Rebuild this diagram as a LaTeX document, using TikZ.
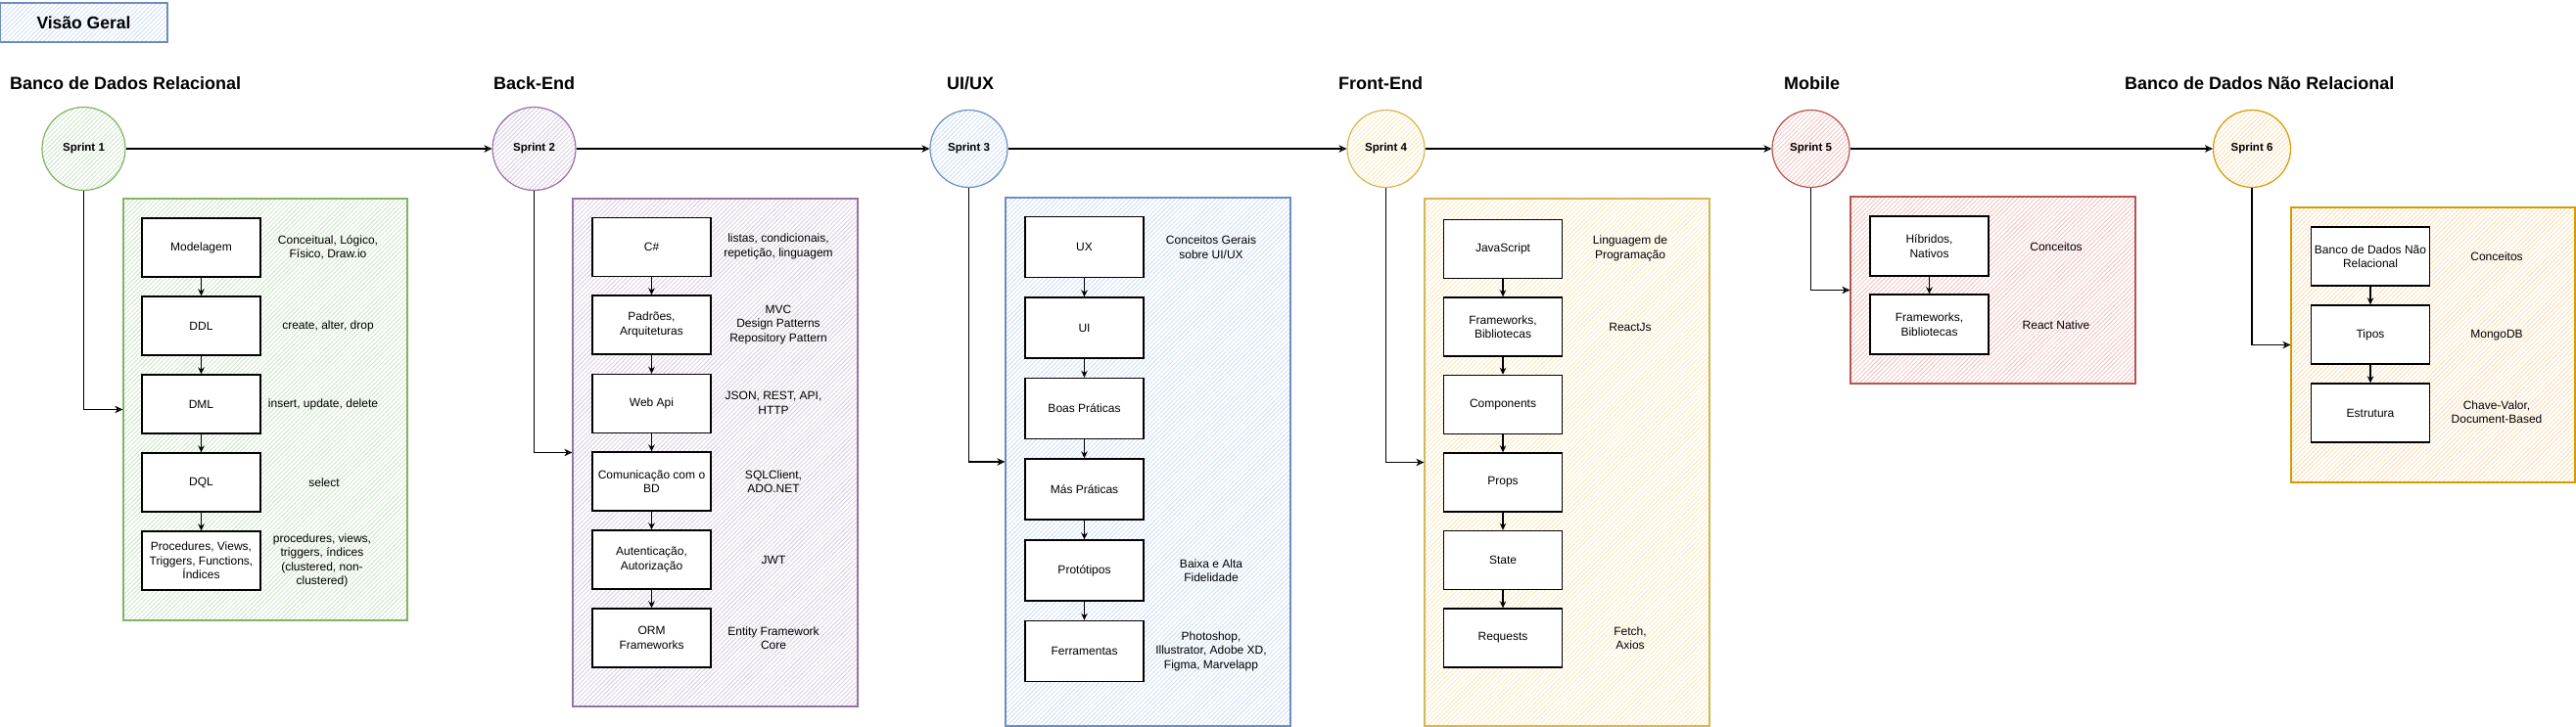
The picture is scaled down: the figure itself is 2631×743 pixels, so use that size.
\documentclass[tikz,border=0pt]{standalone}
\usepackage{fontspec}
\setmainfont{Liberation Sans}
\usetikzlibrary{arrows.meta,patterns.meta}
\definecolor{gF}{HTML}{D5E8D4}\definecolor{gS}{HTML}{82B366}
\definecolor{pF}{HTML}{E1D5E7}\definecolor{pS}{HTML}{9673A6}
\definecolor{bF}{HTML}{DAE8FC}\definecolor{bS}{HTML}{6C8EBF}
\definecolor{yF}{HTML}{FFF2CC}\definecolor{yS}{HTML}{D6B656}
\definecolor{rF}{HTML}{F8CECC}\definecolor{rS}{HTML}{B85450}
\definecolor{oF}{HTML}{FFE6CC}\definecolor{oS}{HTML}{D79B00}
\colorlet{gP}{gF!88!gS}\colorlet{pP}{pF!88!pS}\colorlet{bP}{bF!88!bS}
\colorlet{yP}{yF!85!yS}\colorlet{rP}{rF!88!rS}\colorlet{oP}{oF!88!oS}
\begin{document}
\begin{tikzpicture}[x=1pt,y=-1pt,
 hatch/.style={pattern={Lines[angle=45,distance=3.2pt,line width=0.8pt]},pattern color=#1P,draw=#1S},
 cont/.style={rectangle,hatch=#1,line width=1.3pt,inner sep=0pt},
 sprint/.style={circle,hatch=#1,line width=1.2pt,inner sep=0pt,font=\fontsize{11.5}{13}\selectfont\bfseries},
 box/.style={rectangle,draw=black,fill=white,line width=1.4pt,minimum width=121pt,minimum height=60pt,align=center,inner sep=1pt,font=\fontsize{12}{14.5}\selectfont},
 note/.style={align=center,inner sep=0pt,font=\fontsize{12}{14.5}\selectfont},
 title/.style={anchor=west,inner sep=0pt,font=\fontsize{18}{21}\selectfont\bfseries},
 conn/.style={draw=black,line width=1.2pt,-{Stealth[open,length=8pt,width=7.5pt,inset=2.5pt]}},
 flow/.style={draw=black,line width=1.5pt,-{Stealth[length=7pt,width=6.5pt]}}
]
\useasboundingbox (0,0) rectangle (2631,743);

% header
\node[rectangle,hatch=b,line width=1.3pt,minimum width=171pt,minimum height=40pt,inner sep=0pt,font=\fontsize{17.5}{20}\selectfont\bfseries] (vg) at (85.5,23) {Visão Geral};

% titles
\node[title] (t1) at (10,85) {Banco de Dados Relacional};
\node[title] (t2) at (504,85) {Back-End};
\node[title] (t3) at (967,85) {UI/UX};
\node[title] (t4) at (1367,85) {Front-End};
\node[title] (t5) at (1822,85) {Mobile};
\node[title] (t6) at (2170,85) {Banco de Dados Não Relacional};

% sprints
\node[sprint=g,minimum size=85pt] (s1) at (85.5,152) {Sprint 1};
\node[sprint=p,minimum size=85pt] (s2) at (545.5,152) {Sprint 2};
\node[sprint=b,minimum size=79pt] (s3) at (989.5,152) {Sprint 3};
\node[sprint=y,minimum size=79pt] (s4) at (1415.5,152) {Sprint 4};
\node[sprint=r,minimum size=79pt] (s5) at (1849.5,152) {Sprint 5};
\node[sprint=o,minimum size=79pt] (s6) at (2300,152) {Sprint 6};

\draw[conn] (s1.east) -- (s2.west);
\draw[conn] (s2.east) -- (s3.west);
\draw[conn] (s3.east) -- (s4.west);
\draw[conn] (s4.east) -- (s5.west);
\draw[conn] (s5.east) -- (s6.west);

% containers
\node[cont=g,minimum width=290pt,minimum height=431pt] (c1) at (271,418.5) {};
\node[cont=p,minimum width=291pt,minimum height=519pt] (c2) at (730.5,462.5) {};
\node[cont=b,minimum width=291pt,minimum height=540pt] (c3) at (1172.5,472) {};
\node[cont=y,minimum width=291pt,minimum height=539pt] (c4) at (1600.5,472.5) {};
\node[cont=r,minimum width=291pt,minimum height=191pt] (c5) at (2035.5,296.5) {};
\node[cont=o,minimum width=290pt,minimum height=281pt] (c6) at (2485,352.5) {};

\draw[conn] (s1.south) |- (c1.west);
\draw[conn] (s2.south) |- (c2.west);
\draw[conn] (s3.south) |- (c3.west);
\draw[conn] (s4.south) |- (c4.west);
\draw[conn] (s5.south) |- (c5.west);
\draw[conn] (s6.south) |- (c6.west);

% Sprint 1
\node[box] (a1) at (205.5,253) {Modelagem};
\node[box] (a2) at (205.5,333) {DDL};
\node[box] (a3) at (205.5,413) {DML};
\node[box] (a4) at (205.5,493) {DQL};
\node[box] (a5) at (205.5,573) {Procedures, Views,\\Triggers, Functions,\\Índices};
\draw[flow] (a1) -- (a2); \draw[flow] (a2) -- (a3); \draw[flow] (a3) -- (a4); \draw[flow] (a4) -- (a5);
\node[note] (an1) at (335,253) {Conceitual, Lógico,\\Físico, Draw.io};
\node[note] (an2) at (335,333) {create, alter, drop};
\node[note] (an3) at (330,413) {insert, update, delete};
\node[note] (an4) at (331,493) {select};
\node[note] (an5) at (329,573) {procedures, views,\\triggers, índices\\(clustered, non-\\clustered)};

% Sprint 2
\node[box] (b1) at (665.5,252.5) {C\#};
\node[box] (b2) at (665.5,332) {Padrões,\\Arquiteturas};
\node[box] (b3) at (665.5,412.5) {Web Api};
\node[box] (b4) at (665.5,492) {Comunicação com o\\BD};
\node[box] (b5) at (665.5,572) {Autenticação,\\Autorização};
\node[box] (b6) at (665.5,652) {ORM\\Frameworks};
\draw[flow] (b1) -- (b2); \draw[flow] (b2) -- (b3); \draw[flow] (b3) -- (b4); \draw[flow] (b4) -- (b5); \draw[flow] (b5) -- (b6);
\node[note] (bn1) at (795,252) {listas, condicionais,\\repetição, linguagem};
\node[note] (bn2) at (795,332) {MVC\\Design Patterns\\Repository Pattern};
\node[note] (bn3) at (790,412) {JSON, REST, API,\\HTTP};
\node[note] (bn4) at (790,492) {SQLClient,\\ADO.NET};
\node[note] (bn5) at (790,572) {JWT};
\node[note] (bn6) at (790,652) {Entity Framework\\Core};

% Sprint 3
\node[box,minimum height=62pt] (u1) at (1107.5,252.5) {UX};
\node[box,minimum height=62pt] (u2) at (1107.5,335) {UI};
\node[box,minimum height=62pt] (u3) at (1107.5,417.5) {Boas Práticas};
\node[box,minimum height=62pt] (u4) at (1107.5,500) {Más Práticas};
\node[box,minimum height=62pt] (u5) at (1107.5,583) {Protótipos};
\node[box,minimum height=62pt] (u6) at (1107.5,665.5) {Ferramentas};
\draw[flow] (u1) -- (u2); \draw[flow] (u2) -- (u3); \draw[flow] (u3) -- (u4); \draw[flow] (u4) -- (u5); \draw[flow] (u5) -- (u6);
\node[note] (un1) at (1237,252.5) {Conceitos Gerais\\sobre UI/UX};
\node[note] (un5) at (1237,583) {Baixa e Alta\\Fidelidade};
\node[note] (un6) at (1237,665.5) {Photoshop,\\Illustrator, Adobe XD,\\Figma, Marvelapp};

% Sprint 4
\node[box] (f1) at (1535,254.5) {JavaScript};
\node[box] (f2) at (1535,334) {Frameworks,\\Bibliotecas};
\node[box] (f3) at (1535,413.5) {Components};
\node[box] (f4) at (1535,493) {Props};
\node[box] (f5) at (1535,572.5) {State};
\node[box] (f6) at (1535,652) {Requests};
\draw[flow] (f1) -- (f2); \draw[flow] (f2) -- (f3); \draw[flow] (f3) -- (f4); \draw[flow] (f4) -- (f5); \draw[flow] (f5) -- (f6);
\node[note] (fn1) at (1665,254) {Linguagem de\\Programação};
\node[note] (fn2) at (1665,334) {ReactJs};
\node[note] (fn6) at (1665,652) {Fetch,\\Axios};

% Sprint 5
\node[box,minimum height=61pt] (m1) at (1970.5,251.5) {Híbridos,\\Nativos};
\node[box,minimum height=61pt] (m2) at (1970.5,331.5) {Frameworks,\\Bibliotecas};
\draw[flow] (m1) -- (m2);
\node[note] (mn1) at (2100,252) {Conceitos};
\node[note] (mn2) at (2100,332) {React Native};

% Sprint 6
\node[box] (n1) at (2421,262) {Banco de Dados Não\\Relacional};
\node[box] (n2) at (2421,342) {Tipos};
\node[box] (n3) at (2421,422) {Estrutura};
\draw[flow] (n1) -- (n2); \draw[flow] (n2) -- (n3);
\node[note] (nn1) at (2550,262) {Conceitos};
\node[note] (nn2) at (2550,343) {MongoDB};
\node[note] (nn3) at (2550,421) {Chave-Valor,\\Document-Based};
\end{tikzpicture}
\end{document}
